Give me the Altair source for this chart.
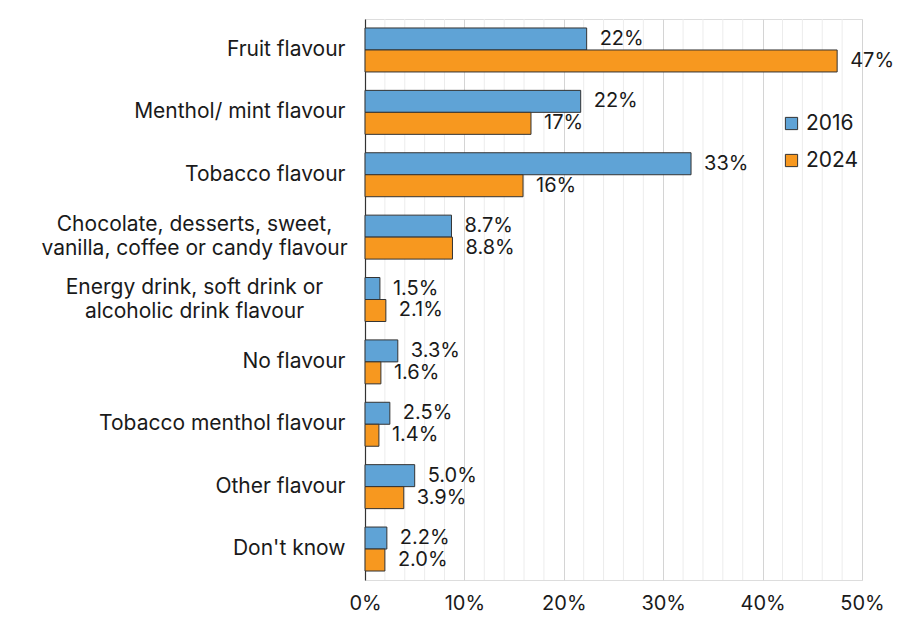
import altair as alt
import pandas as pd

categories = [
    "Fruit flavour",
    "Menthol/ mint flavour",
    "Tobacco flavour",
    "Chocolate, desserts, sweet,|vanilla, coffee or candy flavour",
    "Energy drink, soft drink or|alcoholic drink flavour",
    "No flavour",
    "Tobacco menthol flavour",
    "Other flavour",
    "Don't know",
]
years = ["2016", "2024"]
values_2016 = [22.3, 21.7, 32.8, 8.7, 1.5, 3.3, 2.5, 5.0, 2.2]
values_2024 = [47.5, 16.7, 15.9, 8.8, 2.1, 1.6, 1.4, 3.9, 2.0]
labels_2016 = ["22%", "22%", "33%", "8.7%", "1.5%", "3.3%", "2.5%", "5.0%", "2.2%"]
labels_2024 = ["47%", "17%", "16%", "8.8%", "2.1%", "1.6%", "1.4%", "3.9%", "2.0%"]
major_ticks = [0, 10, 20, 30, 40, 50]
minor_ticks = [v for v in range(2, 50, 2) if v % 10 != 0]
colors = ["#5fa3d6", "#f7981f"]

rows = []
for c, v, l in zip(categories, values_2016, labels_2016):
    rows.append({"cat": c, "year": "2016", "value": v, "label": l})
for c, v, l in zip(categories, values_2024, labels_2024):
    rows.append({"cat": c, "year": "2024", "value": v, "label": l})
df = pd.DataFrame(rows)
minor_df = pd.DataFrame({"value": minor_ticks})

FONT = "Inter"
FS = 20

multi = "indexof(datum.value, '|') >= 0"

x_scale = alt.Scale(domain=[0, 50], nice=False)
x_axis = alt.Axis(
    values=major_ticks,
    labelExpr="datum.value + '%'",
    domain=False,
    ticks=False,
    grid=True,
    gridColor="#d4d4d4",
    gridWidth=1,
    labelFont=FONT,
    labelFontSize=FS,
    labelColor="#1a1a1a",
    labelPadding=13,
    labelFlush=False,
    labelOverlap=False,
    labelBound=False,
)
x_enc = alt.X("value:Q", title=None, scale=x_scale, axis=x_axis)

y_axis = alt.Axis(
    domain=True,
    domainColor="#333333",
    domainWidth=1.2,
    ticks=False,
    grid=False,
    labelExpr="split(datum.value, '|')",
    labelFont=FONT,
    labelFontSize=21,
    labelColor="#1a1a1a",
    labelLineHeight=24,
    labelLimit=400,
    labelOverlap=False,
    labelAlign={"condition": {"test": multi, "value": "center"}, "value": "right"},
    labelPadding={"condition": {"test": multi, "value": 171}, "value": 20},
    labelOffset={"condition": {"test": multi, "value": -12}, "value": 0},
)
y_enc = alt.Y(
    "cat:N",
    sort=categories,
    title=None,
    scale=alt.Scale(paddingInner=0.295, paddingOuter=0.144),
    axis=y_axis,
)
yoff = alt.YOffset("year:N", sort=years, scale=alt.Scale(paddingInner=0, paddingOuter=0))

minor = alt.Chart(minor_df).mark_rule(color="#ececec", strokeWidth=1).encode(
    x=x_enc,
)

bars = alt.Chart(df).mark_bar(stroke="#333333", strokeWidth=1).encode(
    x=x_enc,
    y=y_enc,
    yOffset=yoff,
    color=alt.Color(
        "year:N",
        sort=years,
        scale=alt.Scale(domain=years, range=colors),
        legend=alt.Legend(
            title=None,
            orient="none",
            legendX=416,
            legendY=94,
            symbolType="square",
            symbolSize=150,
            symbolStrokeColor="#333333",
            symbolStrokeWidth=1,
            symbolOpacity=1,
            labelFont=FONT,
            labelFontSize=21,
            labelColor="#1a1a1a",
            rowPadding=15,
            labelOffset=4,
        ),
    ),
)

texts = alt.Chart(df).mark_text(
    align="left", baseline="middle", dx=13, font=FONT, fontSize=FS, color="#1a1a1a"
).encode(
    x=x_enc,
    y=y_enc,
    yOffset=yoff,
    text="label:N",
)

chart = (
    alt.layer(minor, bars, texts)
    .properties(
        width=497,
        height=561,
        autosize=alt.AutoSizeParams(type="none"),
        padding={"left": 357, "top": 11, "right": 31, "bottom": 34},
    )
    .configure_view(stroke=None)
    .configure(background="white")
)

chart.save("out.html", embed_options={"renderer": "svg", "actions": False})
